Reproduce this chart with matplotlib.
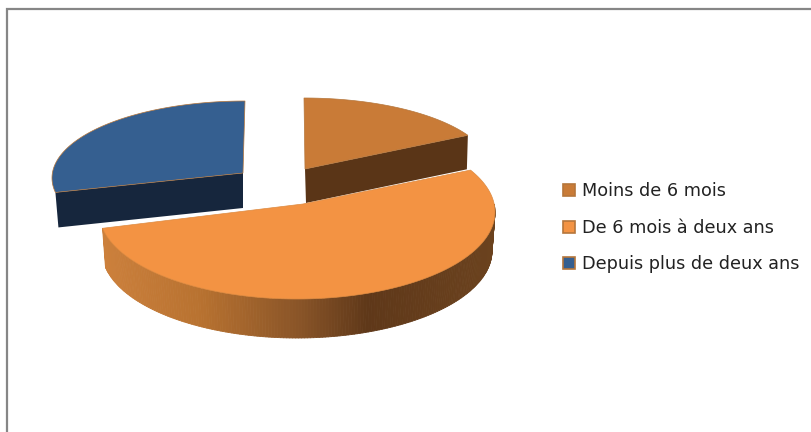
import numpy as np
import matplotlib
matplotlib.use("Agg")
import matplotlib.pyplot as plt
from matplotlib.collections import PolyCollection
from matplotlib.colors import LinearSegmentedColormap
from matplotlib.patches import Patch

labels = ["Moins de 6 mois", "De 6 mois à deux ans", "Depuis plus de deux ans"]
values = [17, 55, 28]

top_colors = ["#c97b37", "#f39343", "#355f90"]
wall_colors = ["#5a3517", None, "#16263d"]
edge_color = "#b5763b"

# projection of each exploded slice: apex, ellipse centre, radii, wall depth (pixels)
geom = [
    dict(apex=(305, 169), c=(304, 170), rx=187, ry=72, d=34),
    dict(apex=(303, 204), c=(297, 212), rx=198, ry=87, d=39),
    dict(apex=(243, 173), c=(245, 178), rx=193, ry=77, d=35),
]

wall_cmap = LinearSegmentedColormap.from_list(
    "wall",
    [(0.0, "#cc803c"), (0.25, "#b87230"), (0.5, "#8a5528"),
     (0.68, "#5f3819"), (1.0, "#6b421e")],
)

fig = plt.figure(figsize=(8.12, 4.32), dpi=100)
ax = fig.add_axes([0, 0, 1, 1])
ax.set_xlim(0, 812)
ax.set_ylim(432, 0)
ax.axis("off")

# chart frame
ax.plot([7.5, 7.5, 812], [432, 8.5, 8.5], color="#868686", lw=1.6,
        solid_joinstyle="miter", zorder=1)

fracs = np.array(values, dtype=float) / sum(values) * 360.0
ends = np.cumsum(fracs)
starts = ends - fracs


def rim(g, theta_deg, dy=0.0, shrink=0.0):
    t = np.radians(theta_deg)
    return (g["c"][0] + (g["rx"] - shrink) * np.sin(t),
            g["c"][1] - g["ry"] * np.cos(t) + dy)


order = [2, 0, 1]
for i in order:
    g = geom[i]
    th = np.linspace(starts[i], ends[i], 160)
    x, y = rim(g, th)
    ax_, ay_ = g["apex"]
    d = g["d"]
    z = 3 + order.index(i) * 3
    if i == 1:
        # curved outer wall with a horizontal gradient
        th_w = np.linspace(max(starts[i], 85), ends[i], 200)
        xt, yt = rim(g, th_w)
        xb, yb = rim(g, th_w, dy=d, shrink=3)
        polys, cols = [], []
        for k in range(len(th_w) - 1):
            polys.append([(xt[k], yt[k]), (xt[k + 1], yt[k + 1]),
                          (xb[k + 1], yb[k + 1]), (xb[k], yb[k])])
            cols.append(wall_cmap((xt[k] - xt.min()) / (xt.max() - xt.min())))
        ax.add_collection(PolyCollection(polys, facecolors=cols, edgecolors=cols,
                                         linewidths=0.6, zorder=z))
    else:
        # flat cut face visible under the slice: runs to the rim point facing the viewer
        px, py = (x[0], y[0]) if i == 2 else (x[-1], y[-1])
        dx = 3 if i == 2 else -1
        face_x = [ax_, px, px + dx, ax_ + (0 if i == 2 else 1)]
        face_y = [ay_, py, py + d, ay_ + d]
        ax.fill(face_x, face_y, color=wall_colors[i], lw=0, zorder=z)
    ax.fill(np.r_[ax_, x], np.r_[ay_, y], facecolor=top_colors[i],
            edgecolor=edge_color if i != 1 else "#dd8a40", lw=0.5, zorder=z + 1)

handles = [Patch(facecolor=c, edgecolor=edge_color, linewidth=1.2) for c in top_colors]
ax.legend(handles, labels, loc="upper left", bbox_to_anchor=(558, 177),
          bbox_transform=ax.transData, frameon=False, handlelength=0.68,
          handleheight=0.68, handletextpad=0.39, labelspacing=1.05,
          borderpad=0.3, borderaxespad=0,
          prop=dict(family="DejaVu Sans", size=12.7), labelcolor="#222222")

fig.savefig("out.png", dpi=100)
